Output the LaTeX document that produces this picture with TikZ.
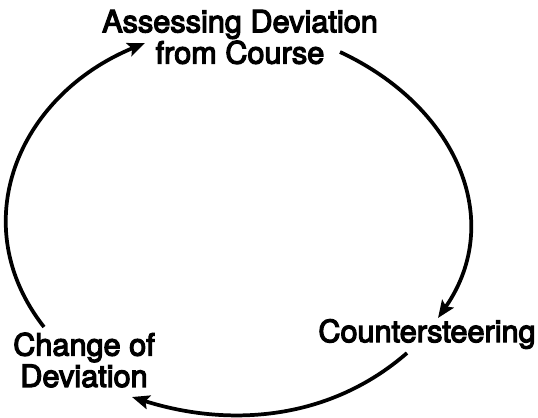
\documentclass[tikz,border=0pt]{standalone}
\usepackage{fontspec}
\newfontfamily\labelfont{TeX Gyre Heros}[FakeBold=4]
\usetikzlibrary{arrows.meta}
\usetikzlibrary{calc}

\tikzset{
  looplabel/.style={inner sep=0pt, align=center, font=\labelfont\fontsize{23}{23.5}\selectfont},
  looparc/.style={line width=2.8pt, -{Stealth[length=13pt,width=10.5pt,inset=2.5pt]}},
}

\begin{document}
\begin{tikzpicture}[x=0.75pt,y=0.75pt,yscale=-1,xscale=1]
\useasboundingbox (0,0) rectangle (538,417);

% Text Node
\node [looplabel] (assess) at (240,37) {Assessing Deviation\\from Course};
% Text Node
\node [looplabel] (counter) at (427,334) {Countersteering};
% Text Node
\node [looplabel] (change) at (84,360) {Change of\\Deviation};

%Curve Lines
\draw [looparc] ($(change.center)+(-40,-33)$) .. controls +(-80,-102) and +(-128,53) .. ($(assess.center)+(-95,6)$);
%Curve Lines
\draw [looparc] ($(assess.center)+(100,15)$) .. controls +(116,54) and +(68,-98) .. ($(counter.center)+(11,-16)$);
%Curve Lines
\draw [looparc] ($(counter.center)+(-20,19)$) .. controls +(-77,67) and +(98,31) .. ($(change.center)+(48,37)$);

\end{tikzpicture}
\end{document}
